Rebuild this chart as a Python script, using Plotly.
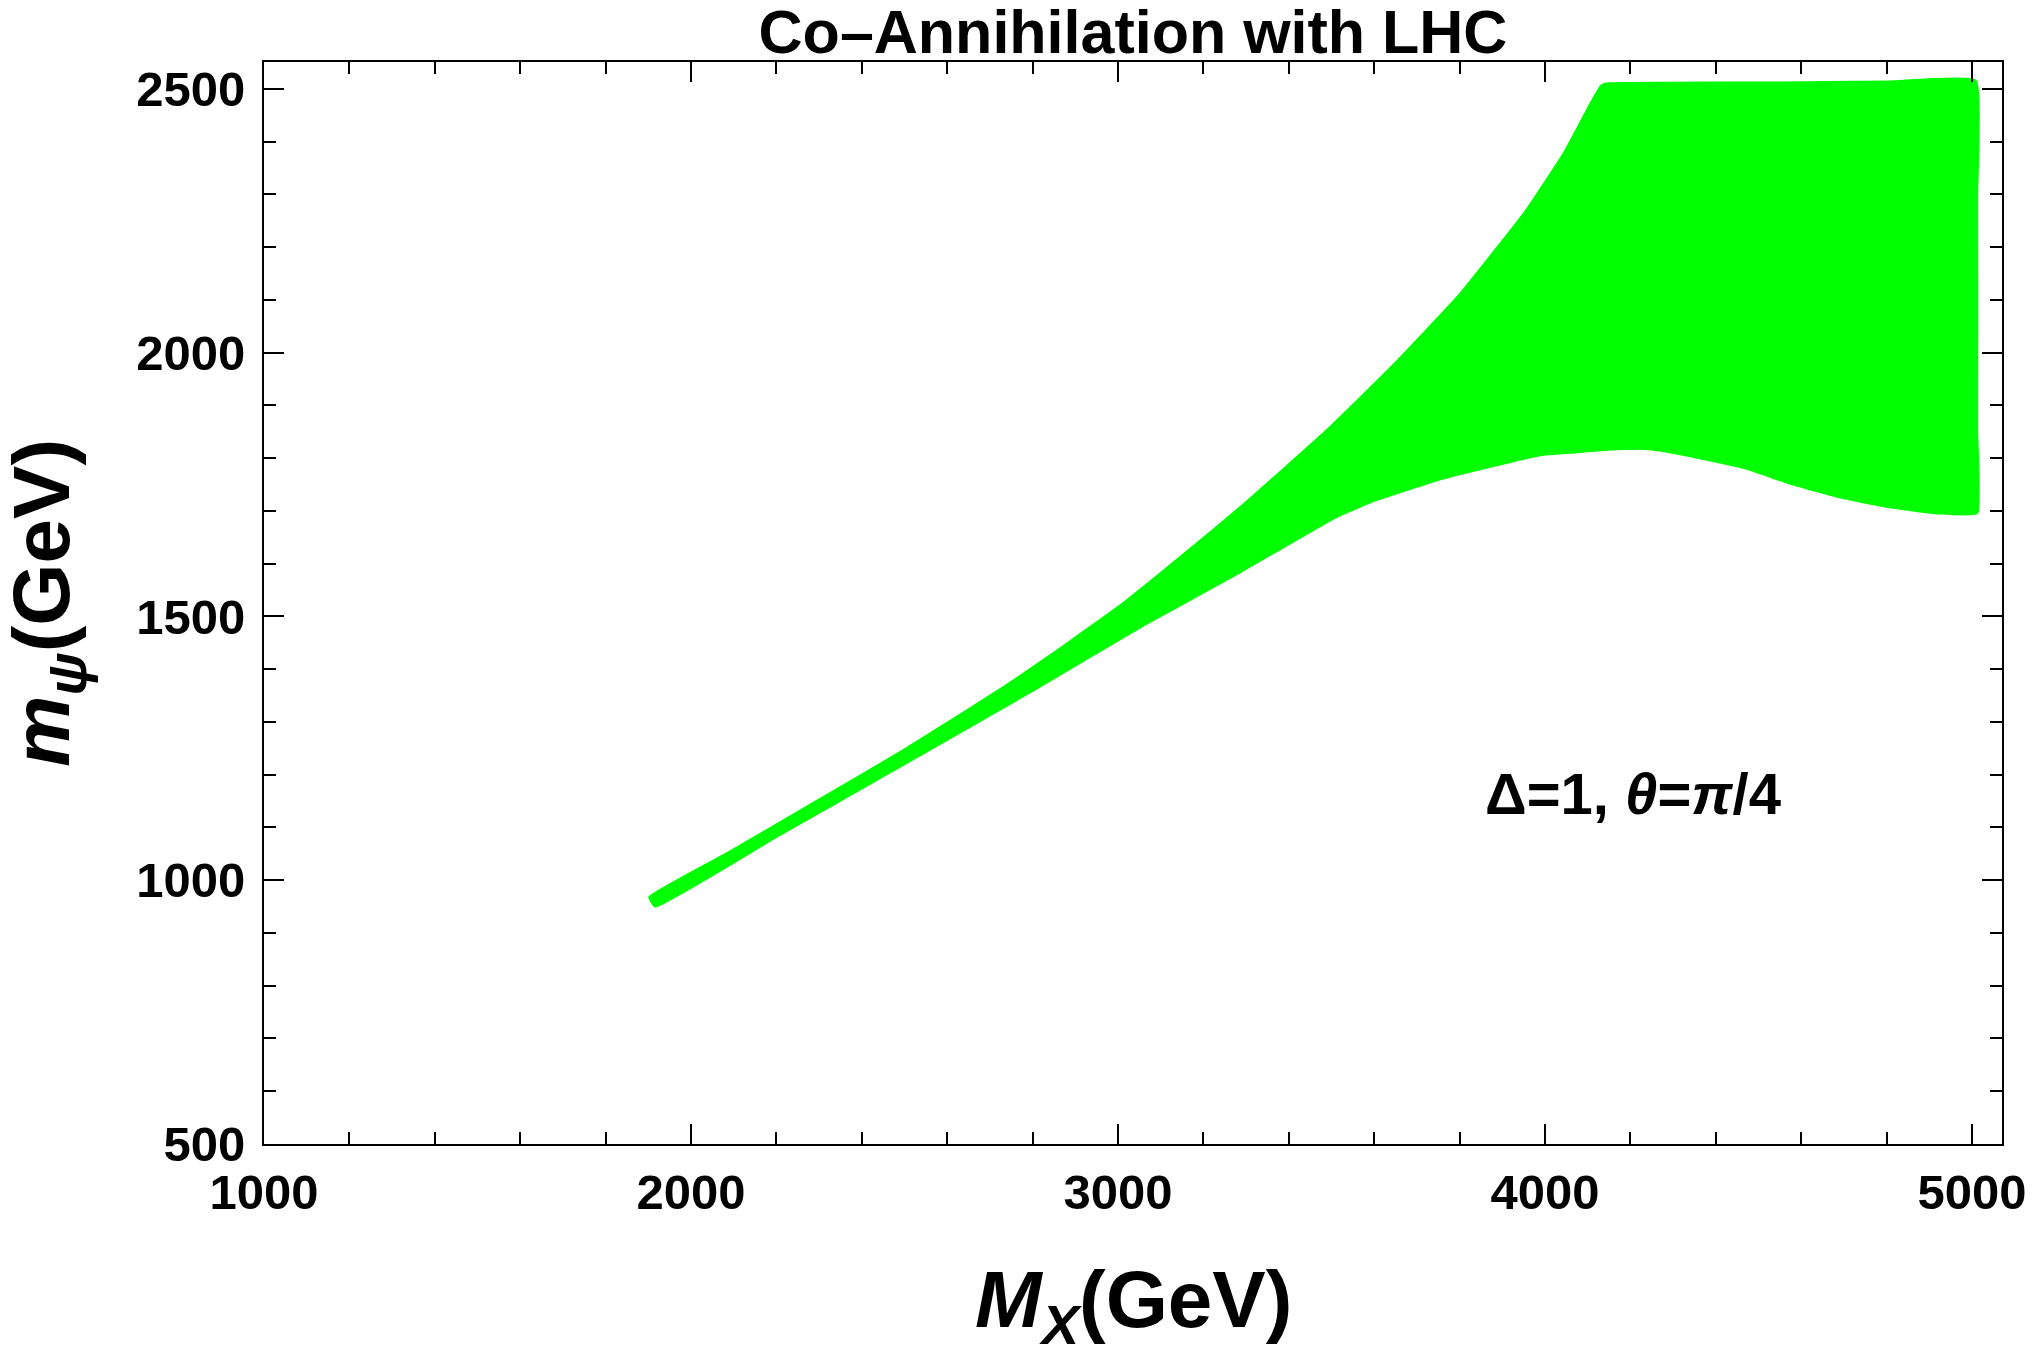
import plotly.graph_objects as go

# ---- data (GeV) ----
# upper (left) boundary of the allowed region, increasing M_X
upper_mx   = [1902, 2081, 2289, 2496, 2735, 2844, 3016, 3146, 3293, 3487, 3642, 3797, 3952, 4045, 4108, 4131]
upper_mpsi = [968, 1050, 1148, 1246, 1368, 1428, 1528, 1613, 1712, 1852, 1975, 2108, 2266, 2380, 2475, 2506]
# flat top edge and right edge (read along the edges)
top_mx   = [4140, 4500, 4806, 5008, 5012, 5012, 5012]
top_mpsi = [2510, 2512, 2514, 2516, 2300, 1850, 1696]
# lower boundary, decreasing M_X
lower_mx   = [4923, 4806, 4689, 4573, 4472, 4379, 4263, 4224, 4147, 4069, 3991, 3914, 3759, 3603, 3510, 3293, 3060, 2800, 2500, 2200, 1916]
lower_mpsi = [1695, 1707, 1726, 1752, 1780, 1797, 1815, 1818, 1816, 1811, 1806, 1792, 1761, 1720, 1688, 1587, 1483, 1359, 1220, 1082, 950]

x_ticks = [1000, 2000, 3000, 4000, 5000]
y_ticks = [500, 1000, 1500, 2000, 2500]

title_text = "Co\u2013Annihilation with LHC"
note_text = "\u0394=1, <i>\u03b8</i>=<i>\u03c0</i>/4"
note_pos = (4207, 1165)

FONT = "Liberation Sans, Arial, sans-serif"
GREEN = "#00FF00"

poly_x = upper_mx + top_mx + lower_mx + [upper_mx[0]]
poly_y = upper_mpsi + top_mpsi + lower_mpsi + [upper_mpsi[0]]

fig = go.Figure()
fig.add_trace(go.Scatter(
    x=poly_x, y=poly_y, mode="lines", fill="toself",
    fillcolor=GREEN, line=dict(color=GREEN, width=2, shape="spline", smoothing=0.35),
    hoverinfo="skip", showlegend=False,
))

axis_common = dict(
    showgrid=False, zeroline=False,
    showline=True, linecolor="black", linewidth=2, mirror="allticks",
    ticks="inside", ticklen=20, tickwidth=2, tickcolor="black",
    tickfont=dict(family=FONT, size=49, color="black", weight="bold"),
)

fig.update_xaxes(
    range=[1000, 5070], tickvals=x_ticks, ticktext=[str(v) for v in x_ticks],
    minor=dict(dtick=200, tick0=1000, ticks="inside", ticklen=12, tickwidth=2, tickcolor="black"),
    ticklabelstandoff=4,
    **axis_common,
)
fig.update_yaxes(
    range=[500, 2551], tickvals=y_ticks, ticktext=[str(v) for v in y_ticks],
    minor=dict(dtick=100, tick0=500, ticks="inside", ticklen=12, tickwidth=2, tickcolor="black"),
    ticklabelstandoff=7,
    **axis_common,
)

annotations = [
    dict(text=note_text, x=note_pos[0], y=note_pos[1], xref="x", yref="y",
         showarrow=False, xanchor="center", yanchor="middle",
         font=dict(family=FONT, size=58, color="black", weight="bold")),
    dict(text="<i>M</i><sub><i>X</i></sub>(GeV)", x=0.5, y=-0.101, xref="paper", yref="paper",
         showarrow=False, xanchor="center", yanchor="top",
         font=dict(family=FONT, size=80, color="black", weight="bold")),
    dict(text="<i>m</i><sub><i>\u03c8</i></sub>(GeV)", x=-0.125, y=0.5, xref="paper", yref="paper",
         showarrow=False, xanchor="center", yanchor="middle", textangle=-90,
         font=dict(family=FONT, size=80, color="black", weight="bold")),
]

fig.update_layout(
    width=2038, height=1351,
    margin=dict(l=264, r=25, t=62, b=207, pad=0),
    paper_bgcolor="white", plot_bgcolor="white",
    title=dict(text=title_text, x=0.5, xanchor="center", y=1 - 32 / 1351, yanchor="middle",
               xref="paper", yref="container",
               font=dict(family=FONT, size=61, color="black", weight="bold")),
    annotations=annotations,
)

fig.write_html("out.html", config={"displayModeBar": False},
               post_script="document.body.style.margin='0';document.body.style.padding='0';document.body.style.overflow='hidden';")
